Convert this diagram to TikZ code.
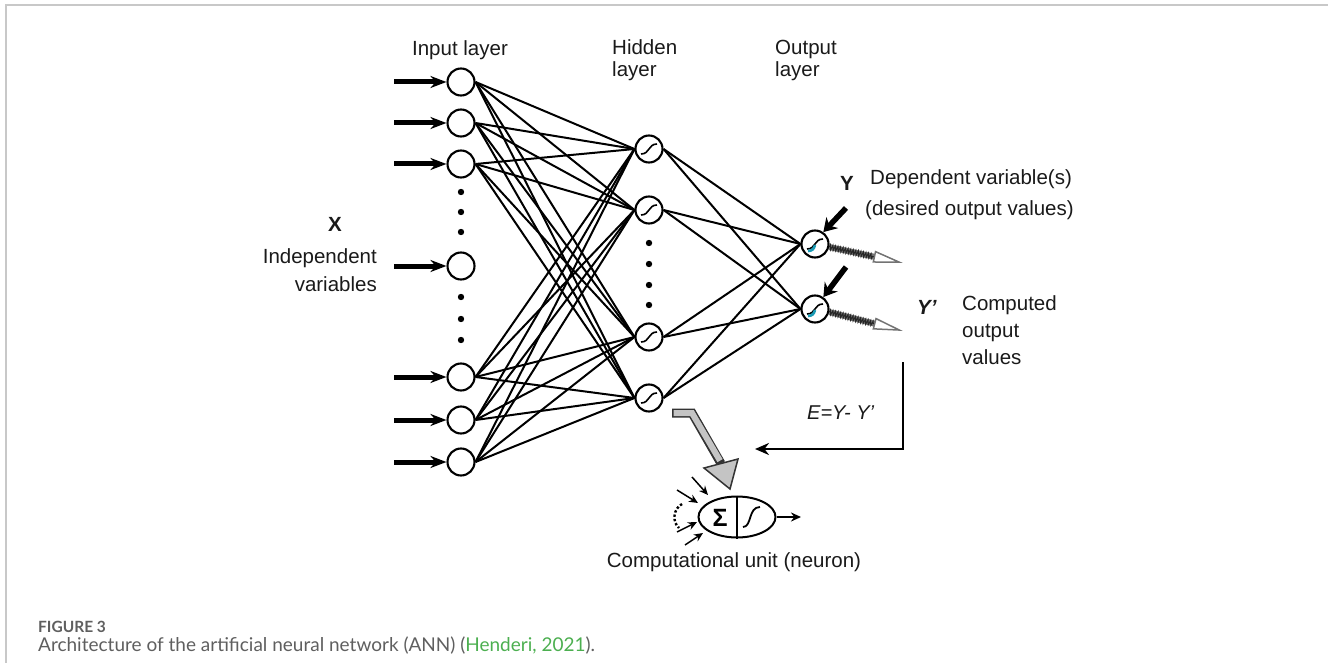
\documentclass[tikz,border=0pt]{standalone}
\usepackage{fontspec}
\setmainfont{Liberation Sans}
\newfontfamily\capfont{Lato}
\usetikzlibrary{arrows.meta,calc,shapes.geometric,decorations.pathmorphing}
\definecolor{ink}{HTML}{1A1A1A}
\definecolor{framegray}{HTML}{C8C8C8}
\definecolor{capgray}{HTML}{5F5F5F}
\definecolor{capgreen}{HTML}{4CAF50}
\definecolor{tealmark}{HTML}{1A9BB5}
\definecolor{hollow}{HTML}{C4C4C4}
\begin{document}
\begin{tikzpicture}[x=1pt,y=-1pt,
  unit/.style={circle,draw=black,line width=2.1pt,minimum size=27pt,inner sep=0pt,fill=white},
  conn/.style={line width=2pt,black},
  feedin/.style={line width=5pt,-{Stealth[length=16pt,width=12pt]}},
  lbl/.style={font=\fontsize{20.5pt}{24pt}\selectfont,text=ink,inner sep=0pt},
  sigline/.style={line width=1.6pt},
  fanline/.style={line width=1pt},
  desired/.style={line width=5.5pt,-{Stealth[length=13pt,width=16pt]}},
  small in/.style={line width=1.5pt,-{Stealth[length=9pt,width=8pt]}},
]
\useasboundingbox (0,0) rectangle (1328,663);

% frame
\draw[framegray,line width=1.5pt] (6,663) -- (6,5) -- (1328,5);

% input layer
\foreach \k/\y in {1/82,2/123,3/164,4/266,5/377,6/420,7/462}{
  \node[unit] (i\k) at (461,\y) {};
  \coordinate (a\k) at (394,\y);
}
% hidden layer
\foreach \k/\y in {1/149,2/210,3/337,4/398}{
  \node[unit] (h\k) at (649,\y) {};
}
% output layer
\node[unit] (o1) at (815,244) {};
\node[unit] (o2) at (815,309) {};

% weights
\foreach \i in {1,2,3,5,6,7}{
  \foreach \h in {1,...,4}{
    \draw[conn] (i\i.east) -- (h\h.west);
  }
}
\foreach \h in {1,...,4}{
  \foreach \o in {1,2}{
    \draw[conn] (h\h.east) -- (o\o.west);
  }
}

% input arrows
\foreach \k in {1,...,7}{
  \draw[feedin] (a\k) -- (i\k.west);
}

% fan of a single input
\foreach \p [count=\k] in {(497,247),(511,255),(513,262),(512,269),(509,276),(505,283),(498,290)}{
  \coordinate (fan\k) at \p;
  \draw[fanline] (i4.east) -- (fan\k);
}

% ellipsis dots
\foreach \y in {192,212,232,297,319,340}{ \fill (461,\y) circle (3.2pt); }
\foreach \y in {243,264,285,305}{ \fill (649,\y) circle (3.2pt); }

% transfer function glyphs
\foreach \n in {h1,h2,h3,h4,o1,o2}{
  \draw[sigline] ($(\n)+(-8,5)$) .. controls ($(\n)+(1,5)$) and ($(\n)+(-1,-5)$) .. ($(\n)+(8,-5)$);
}
\foreach \n in {o1,o2}{
  \draw[tealmark,line width=2.6pt] ($(\n)+(-7,7)$) .. controls ($(\n)+(-3,7)$) and ($(\n)+(-1,5)$) .. ($(\n)+(0,1)$);
}

% desired outputs pointing in
\coordinate (y1) at (846,208);
\coordinate (y2) at (846,267);
\draw[desired] (y1) -- (o1.55);
\draw[desired] (y2) -- (o2.55);

% computed outputs leaving
\coordinate (t1) at (903,263);
\coordinate (t2) at (903,331);
\foreach \o/\t in {o1/t1,o2/t2}{
  \draw[line width=6pt,black!55,-{Triangle[open,length=30pt,width=12pt,line width=1.5pt]}] (\o.-12) -- (\t);
  \draw[decorate,decoration={zigzag,amplitude=2.4pt,segment length=2.6pt},line width=1pt,black!85]
    (\o.-12) -- ($(\t)!30pt!(\o)$);
}

% error feedback
\coordinate (fb1) at (903,362);
\coordinate (fb2) at (903,449);
\coordinate (fb3) at (755,449);
\draw[line width=2.8pt,-{Stealth[length=14pt,width=12pt]}] (fb1) -- (fb2) -- (fb3);

% hollow arrow towards the unit
\coordinate (g1) at (672,413);
\coordinate (g2) at (692,413);
\coordinate (gtip) at (730,489);
\coordinate (gc1) at (704,468);
\coordinate (gc2) at (738,459);
\coordinate (gbase) at ($(gc1)!0.5!(gc2)$);
\draw[line width=9pt,black!80,line join=miter] (g1) -- (g2) -- (gbase);
\filldraw[fill=hollow,draw=black!80,line width=1.5pt,line join=miter] (gc1) -- (gtip) -- (gc2) -- cycle;
\draw[line width=6pt,hollow,line join=miter] ($(g1)+(1.5,0)$) -- (g2) -- ($(gbase)!-3pt!(gtip)$);

% computational unit
\node[ellipse,draw,line width=2pt,minimum width=77pt,minimum height=41pt,inner sep=0pt] (nu) at (737,517) {};
\draw[line width=2pt] (nu.north) -- (nu.south);
\node[font=\fontsize{25pt}{26pt}\selectfont\bfseries,inner sep=0pt] (sum) at (720,518) {Σ};
\draw[line width=1.8pt] (743,527) .. controls (752,527) and (748,507) .. (760,507);
\coordinate (nout) at (801,517);
\draw[line width=1.8pt,-{Stealth[length=10pt,width=9pt]}] (nu.east) -- (nout);
\coordinate (s1) at (692,477);
\coordinate (s2) at (677,490);
\coordinate (s3) at (677,532);
\coordinate (s4) at (685,545);
\draw[small in] (s1) -- (708,495);
\draw[small in] (s2) -- (698,503);
\draw[small in] (s3) -- (697,522);
\draw[small in] (s4) -- (703,533);
\draw[line width=2.4pt,dotted] (682,504) .. controls (673,509) and (672,522) .. (679,528);

% labels
\node[lbl,anchor=base] (tin) at (460,56) {Input layer};
\node[lbl,anchor=base west] (thid1) at (612,55) {Hidden};
\node[lbl,anchor=base west] (thid2) at (612,77) {layer};
\node[lbl,anchor=base west] (tout1) at (775,55) {Output};
\node[lbl,anchor=base west] (tout2) at (775,77) {layer};
\node[lbl,anchor=base,font=\fontsize{20.5pt}{24pt}\selectfont\bfseries] (tx) at (335,232) {X};
\node[lbl,anchor=base east] (tind1) at (377,263) {Independent};
\node[lbl,anchor=base east] (tind2) at (377,291) {variables};
\node[lbl,anchor=base,font=\fontsize{20.5pt}{24pt}\selectfont\bfseries] (ty) at (847,191) {Y};
\node[lbl,anchor=base west] (tdep1) at (870,185) {Dependent variable(s)};
\node[lbl,anchor=base west] (tdep2) at (865,215) {(desired output values)};
\node[lbl,anchor=base west,font=\fontsize{20.5pt}{24pt}\selectfont\bfseries\itshape] (typ) at (917,314) {Y’};
\node[lbl,anchor=base west] (tcmp1) at (962,310) {Computed};
\node[lbl,anchor=base west] (tcmp2) at (962,337) {output};
\node[lbl,anchor=base west] (tcmp3) at (962,364) {values};
\node[lbl,anchor=base west,font=\fontsize{20pt}{24pt}\selectfont\itshape] (terr) at (807,419) {E=Y- Y’};
\node[lbl,anchor=base] (tunit) at (734,567) {Computational unit (neuron)};

% caption
\node[anchor=base west,inner sep=0pt,text=capgray,font=\capfont\fontsize{15.5pt}{18pt}\selectfont\bfseries] (fig) at (38,632) {FIGURE 3};
\node[anchor=base west,inner sep=0pt,text=capgray,font=\capfont\fontsize{19pt}{21pt}\selectfont] (cap) at (38,651)
  {Architecture of the artificial neural network (ANN) (\textcolor{capgreen}{Henderi, 2021}).};
\end{tikzpicture}
\end{document}
